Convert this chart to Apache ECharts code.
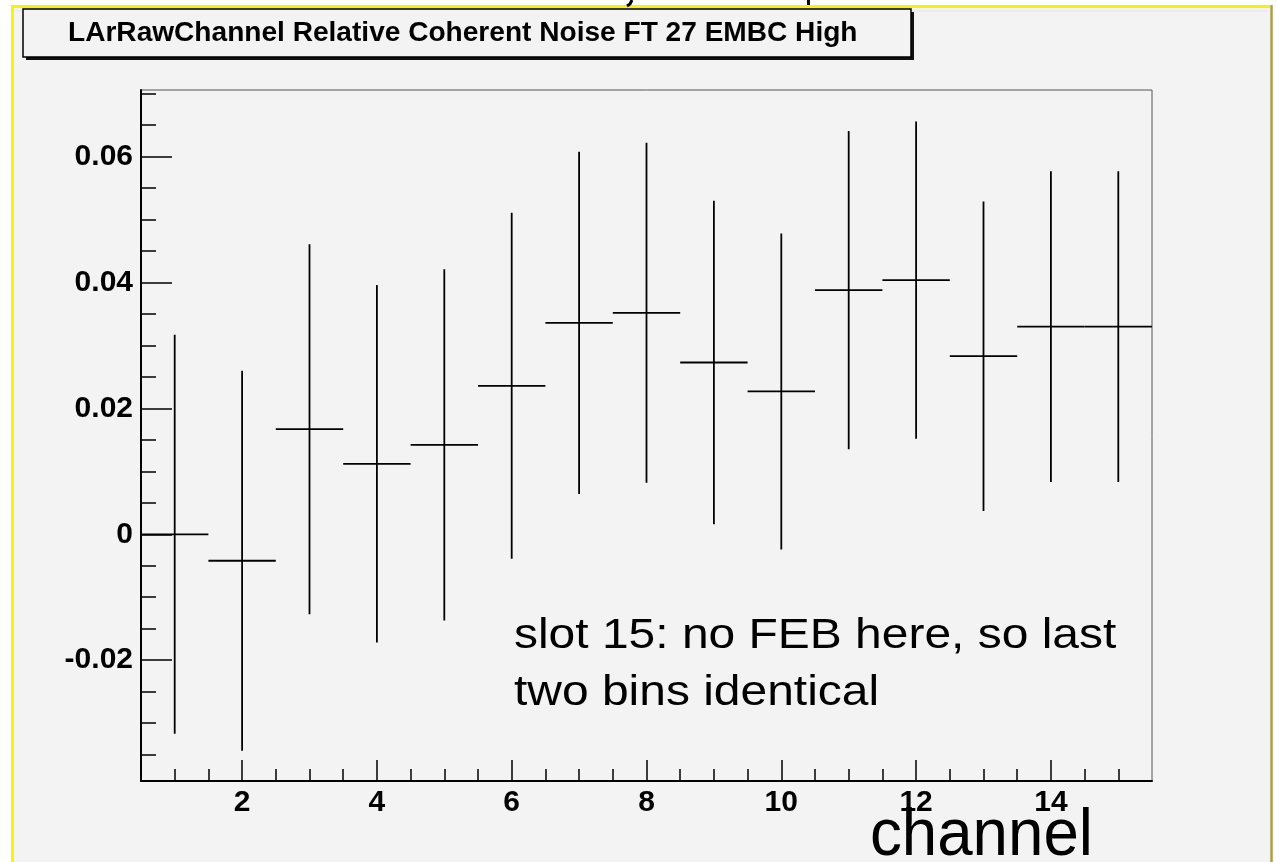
<!DOCTYPE html>
<html>
<head>
<meta charset="utf-8">
<script src="https://cdn.jsdelivr.net/npm/echarts@6/dist/echarts.min.js"></script>
<style>
html,body{margin:0;padding:0;background:#fff;}
#c{width:1276px;height:862px;}
</style>
</head>
<body>
<div id="c"></div>
<script>
// ---- data ----
const channels = [1, 2, 3, 4, 5, 6, 7, 8, 9, 10, 11, 12, 13, 14, 15];
const values = [0.0000, -0.0042, 0.0167, 0.0112, 0.0142, 0.0236, 0.0336, 0.0352, 0.0273, 0.0227, 0.0388, 0.0404, 0.0283, 0.0330, 0.0330];
const errors = [0.0317, 0.0302, 0.0294, 0.0284, 0.0279, 0.0275, 0.0272, 0.0270, 0.0257, 0.0251, 0.0253, 0.0252, 0.0246, 0.0247, 0.0247];
const xMajorTicks = [2, 4, 6, 8, 10, 12, 14];
const xMinorTicks = [1, 1.5, 2.5, 3, 3.5, 4.5, 5, 5.5, 6.5, 7, 7.5, 8.5, 9, 9.5, 10.5, 11, 11.5, 12.5, 13, 13.5, 14.5, 15];
const yMajorTicks = [-0.02, 0, 0.02, 0.04, 0.06];
const yMinorTicks = [-0.035, -0.03, -0.025, -0.015, -0.01, -0.005, 0.005, 0.01, 0.015, 0.025, 0.03, 0.035, 0.045, 0.05, 0.055, 0.065, 0.07];
const titleText = 'LArRawChannel Relative Coherent Noise FT 27 EMBC High';
const noteLine1 = 'slot 15: no FEB here, so last';
const noteLine2 = 'two bins identical';
const xTitle = 'channel';

const chart = echarts.init(document.getElementById('c'), null, {renderer: 'canvas'});
const FONT = '"Liberation Sans", Arial, Helvetica, sans-serif';
const labelStyle = {color: '#000', fontFamily: FONT, fontWeight: 'bold', fontSize: 30};

const option = {
  backgroundColor: '#f3f3f3',
  animation: false,
  grid: {left: 141, right: 124, top: 90, bottom: 81, show: true, borderColor: '#555', borderWidth: 1, backgroundColor: 'transparent'},
  xAxis: [
    {
      type: 'value', min: 0.5, max: 15.5, position: 'bottom',
      axisLine: {show: true, onZero: false, lineStyle: {color: '#000', width: 2}},
      axisTick: {show: true, inside: true, length: 21, customValues: xMajorTicks, lineStyle: {color: '#000', width: 1.5}},
      axisLabel: Object.assign({show: true, margin: 7, customValues: xMajorTicks, formatter: v => String(v)}, labelStyle),
      splitLine: {show: false}
    },
    {
      type: 'value', min: 0.5, max: 15.5, position: 'bottom',
      axisLine: {show: false, onZero: false},
      axisTick: {show: true, inside: true, length: 12, customValues: xMinorTicks, lineStyle: {color: '#000', width: 1.5}},
      axisLabel: {show: false},
      splitLine: {show: false}
    }
  ],
  yAxis: [
    {
      type: 'value', min: -0.0392, max: 0.0706, position: 'left',
      axisLine: {show: true, onZero: false, lineStyle: {color: '#000', width: 2}},
      axisTick: {show: true, inside: true, length: 31, customValues: yMajorTicks, lineStyle: {color: '#000', width: 1.5}},
      axisLabel: Object.assign({show: true, margin: 8, customValues: yMajorTicks,
        formatter: v => (Math.abs(v) < 1e-9 ? '0' : v.toFixed(2))}, labelStyle),
      splitLine: {show: false}
    },
    {
      type: 'value', min: -0.0392, max: 0.0706, position: 'left',
      axisLine: {show: false, onZero: false},
      axisTick: {show: true, inside: true, length: 15, customValues: yMinorTicks, lineStyle: {color: '#000', width: 1.5}},
      axisLabel: {show: false},
      splitLine: {show: false}
    }
  ],
  series: [{
    type: 'custom',
    xAxisIndex: 0, yAxisIndex: 0,
    clip: true,
    data: channels.map((c, i) => [c, values[i], errors[i]]),
    encode: {x: 0, y: 1},
    renderItem: function (params, api) {
      const x = api.value(0), v = api.value(1), e = api.value(2);
      const pL = api.coord([x - 0.5, v]);
      const pR = api.coord([x + 0.5, v]);
      const pT = api.coord([x, v + e]);
      const pB = api.coord([x, v - e]);
      const st = {stroke: '#000', lineWidth: 1.8};
      return {type: 'group', children: [
        {type: 'line', shape: {x1: pL[0], y1: pL[1], x2: pR[0], y2: pR[1]}, style: st},
        {type: 'line', shape: {x1: pT[0], y1: pT[1], x2: pB[0], y2: pB[1]}, style: st}
      ]};
    }
  }],
  graphic: [
    // outer white margins and slide border
    {type: 'rect', shape: {x: 0, y: 0, width: 1276, height: 5}, style: {fill: '#fff'}, silent: true},
    {type: 'rect', shape: {x: 0, y: 0, width: 11, height: 862}, style: {fill: '#fff'}, silent: true},
    {type: 'rect', shape: {x: 1273, y: 0, width: 3, height: 862}, style: {fill: '#fff'}, silent: true},
    {type: 'line', shape: {x1: 11, y1: 6.5, x2: 1270, y2: 6.5}, style: {stroke: '#f5f500', lineWidth: 3}, silent: true},
    {type: 'line', shape: {x1: 12.5, y1: 5, x2: 12.5, y2: 862}, style: {stroke: '#f5f500', lineWidth: 3}, silent: true},
    {type: 'line', shape: {x1: 1271.5, y1: 5, x2: 1271.5, y2: 862}, style: {stroke: '#aaa24a', lineWidth: 2.5}, silent: true},
    {type: 'line', shape: {x1: 15, y1: 11, x2: 1268, y2: 11}, style: {stroke: '#efe8f6', lineWidth: 2}, silent: true},
    // cut-off glyph fragments at the very top
    {type: 'polyline', shape: {points: [[632, 0], [630, 4], [627, 6]]}, style: {stroke: '#000', lineWidth: 3, fill: null}, silent: true},
    {type: 'line', shape: {x1: 808.5, y1: 0, x2: 808.5, y2: 5}, style: {stroke: '#000', lineWidth: 3}, silent: true},
    // title box with shadow
    {type: 'rect', shape: {x: 26, y: 12, width: 888, height: 48}, style: {fill: '#111'}, silent: true},
    {type: 'rect', shape: {x: 23, y: 9, width: 888, height: 48}, style: {fill: '#f3f3f3', stroke: '#000', lineWidth: 1.5}, silent: true},
    {type: 'text', x: 68, y: 33.5, scaleX: 1.04, silent: true,
      style: {text: titleText, fill: '#000', font: 'bold 27px ' + FONT, textAlign: 'left', verticalAlign: 'middle'}},
    // annotation
    {type: 'text', x: 514, y: 636.5, scaleX: 1.115, silent: true,
      style: {text: noteLine1, fill: '#000', font: '43px ' + FONT, textAlign: 'left', verticalAlign: 'middle'}},
    {type: 'text', x: 514, y: 693, scaleX: 1.115, silent: true,
      style: {text: noteLine2, fill: '#000', font: '43px ' + FONT, textAlign: 'left', verticalAlign: 'middle'}},
    // x axis title
    {type: 'text', x: 870, y: 836.5, scaleX: 0.95, silent: true,
      style: {text: xTitle, fill: '#000', font: '67px ' + FONT, textAlign: 'left', verticalAlign: 'middle'}}
  ]
};
chart.setOption(option);
</script>
</body>
</html>
